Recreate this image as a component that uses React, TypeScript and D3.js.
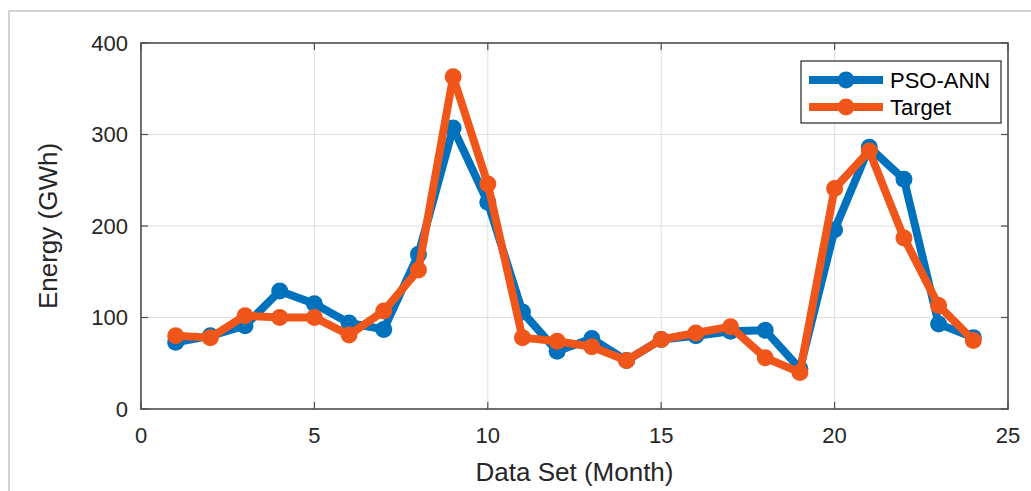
import * as d3 from 'd3'

// months 1..24
const months = d3.range(1, 25)
const psoAnn = [73, 80, 91, 129, 115, 94, 87, 169, 307, 226, 106, 63, 77, 53, 76, 80, 85, 86, 44, 196, 286, 251, 93, 78]
const target = [80, 78, 102, 100, 100, 81, 107, 152, 363, 246, 78, 74, 68, 53, 76, 83, 90, 56, 40, 241, 282, 187, 113, 75]
const xTicks = [0, 5, 10, 15, 20, 25]
const yTicks = [0, 100, 200, 300, 400]
const seriesNames = ['PSO-ANN', 'Target']
const seriesColors = ['#0072BD', '#F0561A']

const W = 1031
const H = 491
const margin = { top: 43, right: 23, bottom: 82, left: 141 }
const FONT = 'Liberation Sans, Arial, Helvetica, sans-serif'

export default function App() {
  const x = d3.scaleLinear().domain([0, 25]).range([margin.left, W - margin.right])
  const y = d3.scaleLinear().domain([0, 400]).range([H - margin.bottom, margin.top])
  const line = d3.line<number>().x((_, i) => x(months[i])).y(d => y(d))
  const series = [psoAnn, target]
  const x0 = x(0), x1 = x(25), y0 = y(0), y1 = y(400)
  const tick = 7

  return (
    <svg width={W} height={H} style={{ position: 'absolute', left: 0, top: 0, background: '#fff' }} fontFamily={FONT}>
      {/* outer figure border */}
      <path d={`M9,${H} V11 H${W}`} fill="none" stroke="#c4c4c4" strokeWidth={1.5} />

      {/* grid */}
      {xTicks.slice(1, -1).map(t => (
        <line key={'gx' + t} x1={x(t)} x2={x(t)} y1={y0} y2={y1} stroke="#dedede" strokeWidth={1} />
      ))}
      {yTicks.slice(1, -1).map(t => (
        <line key={'gy' + t} x1={x0} x2={x1} y1={y(t)} y2={y(t)} stroke="#dedede" strokeWidth={1} />
      ))}

      {/* series */}
      {series.map((s, k) => (
        <g key={seriesNames[k]}>
          <path d={line(s) || ''} fill="none" stroke={seriesColors[k]} strokeWidth={8} strokeLinejoin="round" />
          {s.map((v, i) => (
            <circle key={i} cx={x(months[i])} cy={y(v)} r={8.5} fill={seriesColors[k]} />
          ))}
        </g>
      ))}

      {/* axes box + ticks */}
      <rect x={x0} y={y1} width={x1 - x0} height={y0 - y1} fill="none" stroke="#4d4d4d" strokeWidth={1.6} />
      {xTicks.map(t => (
        <g key={'tx' + t}>
          <line x1={x(t)} x2={x(t)} y1={y0} y2={y0 - tick} stroke="#4d4d4d" strokeWidth={1.2} />
          <line x1={x(t)} x2={x(t)} y1={y1} y2={y1 + tick} stroke="#4d4d4d" strokeWidth={1.2} />
          <text x={x(t)} y={y0 + 34} textAnchor="middle" fontSize={22} fill="#262626">{t}</text>
        </g>
      ))}
      {yTicks.map(t => (
        <g key={'ty' + t}>
          <line x1={x0} x2={x0 + tick} y1={y(t)} y2={y(t)} stroke="#4d4d4d" strokeWidth={1.2} />
          <line x1={x1} x2={x1 - tick} y1={y(t)} y2={y(t)} stroke="#4d4d4d" strokeWidth={1.2} />
          <text x={x0 - 13} y={y(t)} dy="0.36em" textAnchor="end" fontSize={22} fill="#262626">{t}</text>
        </g>
      ))}

      {/* axis titles */}
      <text x={(x0 + x1) / 2} y={H - 10} textAnchor="middle" fontSize={26} fill="#262626">Data Set (Month)</text>
      <text transform={`translate(57,${(y0 + y1) / 2}) rotate(-90)`} textAnchor="middle" fontSize={26} fill="#262626">Energy (GWh)</text>

      {/* legend */}
      <g transform="translate(801,61)">
        <rect x={0} y={0} width={200} height={62} fill="#fff" stroke="#262626" strokeWidth={1.2} />
        {seriesNames.map((n, k) => (
          <g key={n} transform={`translate(0,${19 + k * 27})`}>
            <line x1={8} x2={82} y1={0} y2={0} stroke={seriesColors[k]} strokeWidth={8} />
            <circle cx={45} cy={0} r={8.5} fill={seriesColors[k]} />
            <text x={89} y={0} dy="0.36em" fontSize={22} fill="#000">{n}</text>
          </g>
        ))}
      </g>
    </svg>
  )
}
